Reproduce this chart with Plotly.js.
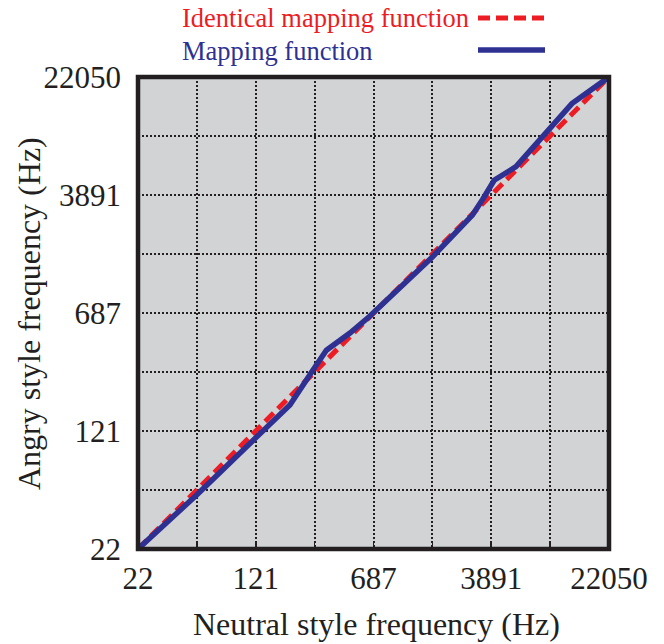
<!DOCTYPE html>
<html>
<head>
<meta charset="utf-8">
<script src="https://cdn.plot.ly/plotly-3.0.1.min.js"></script>
<style>
html,body{margin:0;padding:0;background:#fff;}
#chart{width:664px;height:644px;}
</style>
</head>
<body>
<div id="chart"></div>
<script>
// ---- Data (Hz) ----
const identicalX = [22, 22050];
const identicalY = [22, 22050];

const mappingX = [22, 52.2, 113.6, 204.3, 286.1, 349, 493, 656, 1652, 1832, 2973, 3443, 4092, 5633, 7888, 9135, 12800, 22050];
const mappingY = [22, 48.7, 103.2, 181.0, 301.4, 404.2, 519.2, 661.4, 1582, 1755, 2922, 3658, 4865, 5934, 8751, 10135, 14947, 22050];

// Axis ticks: 8 equal divisions on the log axis, labels every other line
const tickVals = [22, 52.2, 123.8, 293.7, 696.5, 1652, 3918, 9297, 22050];
const tickText = ['22', '', '121', '', '687', '', '3891', '', '22050'];

const seriesNames = ['Identical mapping function', 'Mapping function'];
const xTitle = 'Neutral style frequency (Hz)';
const yTitle = 'Angry style frequency (Hz)';

// ---- Styling ----
const RED = '#ed1c24', BLUE = '#2e3192', INK = '#231f20', BG = '#d1d3d4';
const FONT = '"Liberation Serif", "Times New Roman", serif';
const W = 664, H = 644;
const M = {l: 138, r: 55, t: 77, b: 95};
const PW = W - M.l - M.r, PH = H - M.t - M.b;
const px2x = p => (p - M.l) / PW;
const px2y = p => (H - M.b - p) / PH;

const lo = Math.log10(22), hi = Math.log10(22050);

const axisCommon = {
  type: 'log',
  range: [lo, hi],
  tickmode: 'array',
  tickvals: tickVals,
  ticktext: tickText,
  showgrid: true,
  gridcolor: INK,
  gridwidth: 2,
  griddash: '2px,2px',
  zeroline: false,
  showline: false,
  tickfont: {family: FONT, size: 31, color: INK},
  fixedrange: true
};

const traces = [
  {
    x: identicalX, y: identicalY, mode: 'lines', name: seriesNames[0],
    line: {color: RED, width: 5, dash: '12px,6px'}, showlegend: false, hoverinfo: 'skip'
  },
  {
    x: mappingX, y: mappingY, mode: 'lines', name: seriesNames[1],
    line: {color: BLUE, width: 5.5}, showlegend: false, hoverinfo: 'skip'
  }
];

const layout = {
  width: W, height: H,
  margin: M,
  font: {family: FONT},
  paper_bgcolor: '#ffffff',
  plot_bgcolor: BG,
  showlegend: false,
  xaxis: Object.assign({}, axisCommon, {
    ticks: 'inside', ticklen: 6, tickwidth: 1.5, tickcolor: INK,
    ticklabelstandoff: 8
  }),
  yaxis: Object.assign({}, axisCommon, {
    ticks: '', ticklabelstandoff: 16
  }),
  shapes: [
    {type: 'rect', xref: 'paper', yref: 'paper', x0: 0, x1: 1, y0: 0, y1: 1,
     line: {color: INK, width: 4.5}, layer: 'above'},
    {type: 'line', xref: 'paper', yref: 'paper', x0: px2x(478), x1: px2x(545), y0: px2y(18), y1: px2y(18),
     line: {color: RED, width: 5, dash: '12px,6px'}},
    {type: 'line', xref: 'paper', yref: 'paper', x0: px2x(478), x1: px2x(545), y0: px2y(50), y1: px2y(50),
     line: {color: BLUE, width: 5.5}}
  ],
  annotations: [
    {text: seriesNames[0], xref: 'paper', yref: 'paper', x: px2x(180), y: px2y(18),
     xanchor: 'left', yanchor: 'middle', showarrow: false,
     font: {family: FONT, size: 26.5, color: RED}},
    {text: seriesNames[1], xref: 'paper', yref: 'paper', x: px2x(180), y: px2y(51),
     xanchor: 'left', yanchor: 'middle', showarrow: false,
     font: {family: FONT, size: 26.5, color: BLUE}},
    {text: xTitle, xref: 'paper', yref: 'paper', x: px2x(376), y: px2y(624),
     xanchor: 'center', yanchor: 'middle', showarrow: false,
     font: {family: FONT, size: 32, color: INK}},
    {text: yTitle, xref: 'paper', yref: 'paper', x: px2x(29), y: px2y(314),
     xanchor: 'center', yanchor: 'middle', showarrow: false, textangle: -90,
     font: {family: FONT, size: 32, color: INK}}
  ]
};

Plotly.newPlot('chart', traces, layout, {staticPlot: true, displayModeBar: false});
</script>
</body>
</html>
